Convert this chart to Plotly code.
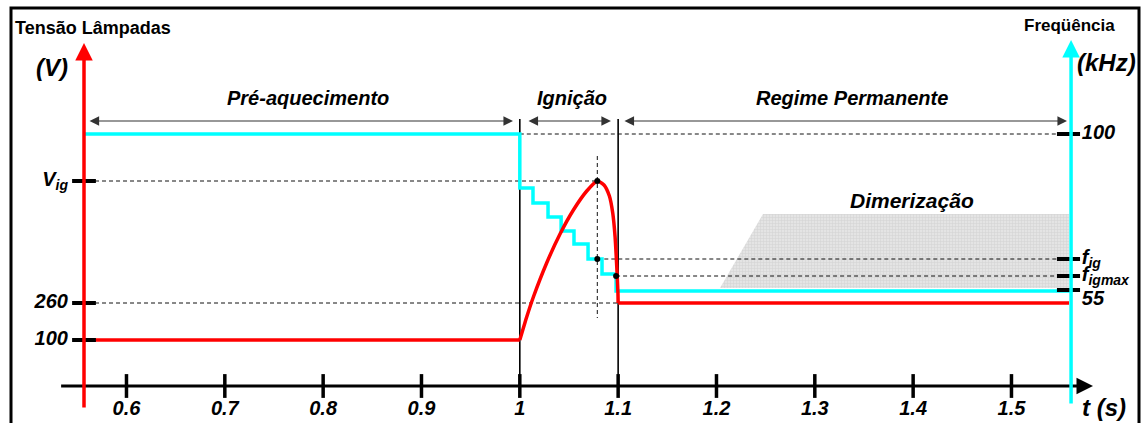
import plotly.graph_objects as go

# ---------------- data ----------------
# time axis (s)
x_ticks = [0.6, 0.7, 0.8, 0.9, 1.0, 1.1, 1.2, 1.3, 1.4, 1.5]
x_tick_labels = ["0.6", "0.7", "0.8", "0.9", "1", "1.1", "1.2", "1.3", "1.4", "1.5"]

# left axis: lamp voltage (schematic levels)
v_levels = [46, 83, 205]
v_labels = ["100", "260", "V<sub>ig</sub>"]

# right axis: frequency (schematic levels)
f_levels = [252, 127, 110, 96]
f_labels = ["100", "f<sub>ig</sub>", "f<sub>igmax</sub>", "55"]

# lamp voltage curve
t_v_pre = [0.5568, 1.0]
v_pre = [46, 46]
t_v_ign = [1.0, 1.0070, 1.0138, 1.0273, 1.0409, 1.0545, 1.0681, 1.0788,
           1.0856, 1.0911, 1.0945, 1.0969, 1.0986, 1.0998, 1.1]
v_ign = [46, 69, 89, 123, 152, 176, 195, 205,
         201, 190, 173, 149, 119, 93, 83]
t_v_reg = [1.1, 1.5585]
v_reg = [83, 83]

# frequency staircase
t_f = [0.5568, 1.0, 1.0134, 1.0287, 1.042, 1.0551, 1.0694, 1.0836, 1.0979, 1.5606]
f_val = [252, 198, 183, 169, 155, 142, 127, 112, 95, 95]

# dimming region
t_dim = [1.2473, 1.5585, 1.5585, 1.2036, 1.2473]
f_dim = [172, 172, 98, 98, 172]

# phases
phase_names = ["Pré-aquecimento", "Ignição", "Regime Permanente"]
phase_start = [0.5609, 1.0073, 1.1049]
phase_end = [0.9931, 1.0927, 1.5565]
phase_label_t = [0.7841, 1.0531, 1.3378]

t_ign_start, t_ign_end = 1.0, 1.1
t_peak = 1.0788
t_figmax = 1.0979

# ---------------- layout constants ----------------
T_VAXIS = 0.5568
T_FAXIS = 1.5606
T_FTICK = 1.5580
RED = "#ff0000"
CYAN = "#00ffff"
FONT = "Liberation Sans, Arial, sans-serif"


def bi(size, color="black"):
    return dict(family=FONT, size=size, color=color, weight="bold", style="italic")


fig = go.Figure()

# dimming region
fig.add_trace(go.Scatter(
    x=t_dim, y=f_dim, mode="lines", fill="toself",
    fillcolor="#dedede", line=dict(width=0),
    fillpattern=dict(shape="+", size=3, solidity=0.35, fgcolor="#c4c4c4", bgcolor="#e4e4e4"),
    hoverinfo="skip"))

# dashed guide lines
dash_x = [T_VAXIS + 0.0112, t_peak, None,
          T_VAXIS + 0.0112, t_ign_end, None,
          t_ign_start, T_FTICK - 0.012, None,
          t_peak, T_FTICK - 0.012, None,
          t_figmax, T_FTICK - 0.012, None,
          t_peak, t_peak]
dash_y = [v_levels[2], v_levels[2], None,
          v_levels[1], v_levels[1], None,
          f_levels[0], f_levels[0], None,
          f_levels[1], f_levels[1], None,
          f_levels[2], f_levels[2], None,
          230, 68]
fig.add_trace(go.Scatter(x=dash_x, y=dash_y, mode="lines",
                         line=dict(color="#111", width=1, dash="4px,3px"),
                         hoverinfo="skip"))

# phase boundaries
fig.add_trace(go.Scatter(x=[t_ign_start, t_ign_start, None, t_ign_end, t_ign_end],
                         y=[267, 0, None, 267, 0], mode="lines",
                         line=dict(color="black", width=1.6), hoverinfo="skip"))

# frequency curve
fig.add_trace(go.Scatter(x=t_f, y=f_val, mode="lines", line_shape="hv",
                         line=dict(color=CYAN, width=3.5), hoverinfo="skip"))

# voltage curve
fig.add_trace(go.Scatter(x=t_v_pre, y=v_pre, mode="lines",
                         line=dict(color=RED, width=3.5), hoverinfo="skip"))
fig.add_trace(go.Scatter(x=t_v_ign, y=v_ign, mode="lines", line_shape="spline",
                         line=dict(color=RED, width=3.5, smoothing=0.6), hoverinfo="skip"))
fig.add_trace(go.Scatter(x=t_v_reg, y=v_reg, mode="lines",
                         line=dict(color=RED, width=3.5), hoverinfo="skip"))

# marker dots
fig.add_trace(go.Scatter(x=[t_peak, t_peak, t_figmax],
                         y=[v_levels[2], f_levels[1], f_levels[2]],
                         mode="markers", marker=dict(color="black", size=6),
                         hoverinfo="skip"))

# ticks
fig.add_trace(go.Scatter(x=x_ticks, y=[0] * len(x_ticks), mode="markers",
                         marker=dict(symbol="line-ns", size=17,
                                     line=dict(color="black", width=3.5)),
                         hoverinfo="skip"))
fig.add_trace(go.Scatter(x=[T_VAXIS] * len(v_levels), y=v_levels, mode="markers",
                         marker=dict(symbol="line-ew", size=17,
                                     line=dict(color="black", width=4)),
                         hoverinfo="skip"))
fig.add_trace(go.Scatter(x=[T_FTICK] * len(f_levels), y=f_levels, mode="markers",
                         marker=dict(symbol="line-ew", size=16.5,
                                     line=dict(color="black", width=4)),
                         hoverinfo="skip"))

# tick labels
fig.add_trace(go.Scatter(x=x_ticks, y=[-24] * len(x_ticks), mode="text",
                         text=x_tick_labels, textposition="middle center",
                         textfont=bi(20), hoverinfo="skip"))
fig.add_trace(go.Scatter(x=[0.5405] * len(v_levels), y=v_levels, mode="text",
                         text=v_labels, textposition="middle left",
                         textfont=bi(20), hoverinfo="skip"))
fig.add_trace(go.Scatter(x=[1.5715] * len(f_levels), y=f_levels, mode="text",
                         text=f_labels,
                         textposition=["middle right", "middle right", "middle right", "bottom right"],
                         textfont=bi(20), hoverinfo="skip"))


def arrow(x0, y0, x1, y1, color, width, size, side="end"):
    fig.add_annotation(x=x1, y=y1, ax=x0, ay=y0, xref="x", yref="y",
                       axref="x", ayref="y", text="", showarrow=True,
                       arrowhead=2, startarrowhead=2, arrowsize=size,
                       startarrowsize=size, arrowwidth=width,
                       arrowcolor=color, arrowside=side)


# phase dimension arrows and labels
for name, a, b, c in zip(phase_names, phase_start, phase_end, phase_label_t):
    arrow(a, 265, b, 265, "#333", 1.2, 1.6, side="end+start")
    fig.add_annotation(x=c, y=288, xref="x", yref="y", text=name,
                       showarrow=False, font=bi(20))

# axes
arrow(0.5320, 0, 1.5829, 0, "black", 3, 1.1)
arrow(T_VAXIS, -23, T_VAXIS, 343, RED, 3.5, 1.0)
arrow(T_FAXIS, -19, T_FAXIS, 346, CYAN, 3.5, 1.0)

# titles
fig.add_annotation(x=0.5660, y=358, xref="x", yref="y", text="Tensão Lâmpadas",
                   showarrow=False, font=dict(family=FONT, size=18, color="black", weight="bold"))
fig.add_annotation(x=1.5595, y=361, xref="x", yref="y", text="Freqüência",
                   showarrow=False, font=dict(family=FONT, size=17, color="black", weight="bold"))
fig.add_annotation(x=0.5242, y=319, xref="x", yref="y", text="(V)",
                   showarrow=False, font=bi(24))
fig.add_annotation(x=1.5962, y=324, xref="x", yref="y", text="(kHz)",
                   showarrow=False, font=bi(24))
fig.add_annotation(x=1.5941, y=-21, xref="x", yref="y", text="t (s)",
                   showarrow=False, font=bi(24))
fig.add_annotation(x=1.3989, y=186, xref="x", yref="y", text="Dimerização",
                   showarrow=False, font=bi(21))

# frame
fig.add_shape(type="rect", xref="paper", yref="paper",
              x0=11 / 1143, x1=1139 / 1143, y0=-0.05, y1=1 - 8 / 423,
              line=dict(color="black", width=3))

fig.update_layout(
    width=1143, height=423,
    margin=dict(l=0, r=0, t=0, b=0),
    paper_bgcolor="white", plot_bgcolor="white",
    showlegend=False,
    xaxis=dict(visible=False, range=[0.47137, 1.63376], fixedrange=True),
    yaxis=dict(visible=False, range=[-37, 386], fixedrange=True),
)

fig.write_html("out.html", config={"displayModeBar": False},
               post_script="document.body.style.margin='0';document.body.style.overflow='hidden';")
